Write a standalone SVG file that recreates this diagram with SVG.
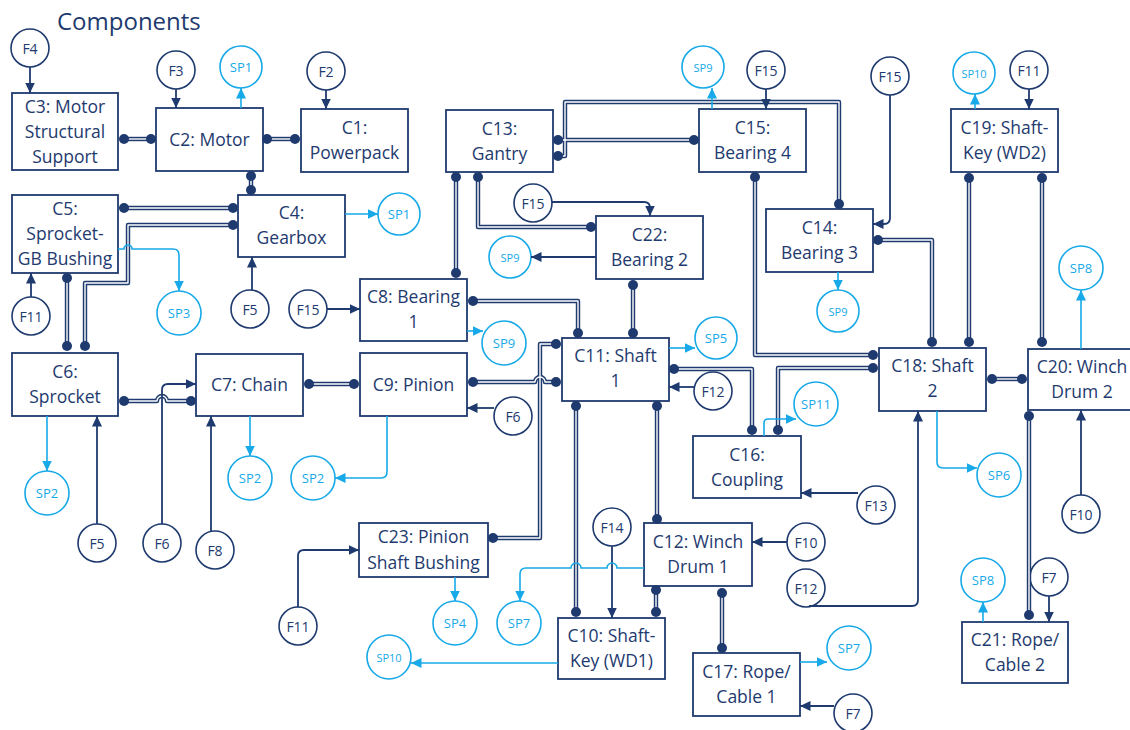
<svg xmlns="http://www.w3.org/2000/svg" xmlns:xlink="http://www.w3.org/1999/xlink" width="1130" height="730" viewBox="0 0 1130 730">
<style>
.bg{fill:#fff}
.box{fill:#fff;stroke:#1E3A6E;stroke-width:1.8}
.lbl{font-family:"Open Sans","Noto Sans",sans-serif;font-size:17.5px;fill:#1E3A6E;text-anchor:middle}
.title{font-family:"Open Sans","Noto Sans",sans-serif;font-size:24px;fill:#1E3A6E}
.fc{fill:#fff;stroke:#1E3A6E;stroke-width:1.6}
.ft{font-family:"Open Sans","Noto Sans",sans-serif;font-size:14px;fill:#1E3A6E;text-anchor:middle;dominant-baseline:central}
.sc{fill:#fff;stroke:#17A9E8;stroke-width:1.6}
.st{font-family:"Open Sans","Noto Sans",sans-serif;font-size:13px;fill:#17A9E8;text-anchor:middle;dominant-baseline:central}
.st.s{font-size:11px}
.na{fill:none;stroke:#1E3A6E;stroke-width:1.8;marker-end:url(#an)}
.ba{fill:none;stroke:#17A9E8;stroke-width:1.6;marker-end:url(#ab)}
.dbo{fill:none;stroke:#1E3A6E;stroke-width:4.4;stroke-linejoin:round}
.dbi{fill:none;stroke:#fff;stroke-width:1.4;stroke-linejoin:round}
.dot{fill:#1E3A6E}
</style>
<defs>
<marker id="an" markerUnits="userSpaceOnUse" markerWidth="11" markerHeight="10" refX="10.5" refY="5" orient="auto"><path d="M0,0 L10.5,5 L0,10 z" fill="#1E3A6E"/></marker>
<marker id="ab" markerUnits="userSpaceOnUse" markerWidth="11" markerHeight="10" refX="10.5" refY="5" orient="auto"><path d="M0,0 L10.5,5 L0,10 z" fill="#17A9E8"/></marker>
<path id="d1" d="M124,139 H151"/>
<path id="d2" d="M267,139 H295"/>
<path id="d3" d="M251,176 V190"/>
<path id="d4" d="M124,208 H233"/>
<path id="d5" d="M233,225 H128 V283 H85 V346"/>
<path id="d6" d="M67,278 V346"/>
<path id="d7" d="M124,401 H157 a5,5 0 0 1 10,0 H191"/>
<path id="d8" d="M309,384 H354"/>
<path id="d9" d="M456,177 V273"/>
<path id="d10" d="M478,177 V227 H591"/>
<path id="d11" d="M558,140 H694"/>
<path id="d12" d="M558,156 H565 V102 H839 V204"/>
<path id="d13" d="M473,301 H578 V333"/>
<path id="d14" d="M633,285 V333"/>
<path id="d15" d="M473,382 H535 a5,5 0 0 1 10,0 H556"/>
<path id="d16" d="M493,538 H540 V344 H556"/>
<path id="d17" d="M576,406 V612"/>
<path id="d18" d="M657,406 V519"/>
<path id="d19" d="M656,590 V612"/>
<path id="d20" d="M674,369 H752 V430"/>
<path id="d21" d="M778,430 V368 H873"/>
<path id="d22" d="M755,177 V355 H873"/>
<path id="d23" d="M878,240 H932 V342"/>
<path id="d24" d="M969,178 V342"/>
<path id="d25" d="M1042,178 V342"/>
<path id="d26" d="M992,379 H1022"/>
<path id="d27" d="M1029,416 V615"/>
<path id="d28" d="M722,593 V648"/>
</defs>
<rect class="bg" x="0" y="0" width="1130" height="730"/>
<text class="title" x="57" y="30">Components</text>

<g id="nodes">
<g id="C1"><rect class="box" x="301" y="109" width="107" height="63"/><text class="lbl" x="354.5" y="134">C1:</text><text class="lbl" x="354.5" y="159">Powerpack</text></g>
<g id="C2"><rect class="box" x="156" y="108" width="107" height="63"/><text class="lbl" x="209.5" y="146">C2: Motor</text></g>
<g id="C3"><rect class="box" x="12" y="93" width="106" height="77"/><text class="lbl" x="65" y="113">C3: Motor</text><text class="lbl" x="65" y="138">Structural</text><text class="lbl" x="65" y="163">Support</text></g>
<g id="C4"><rect class="box" x="238" y="195" width="107" height="62"/><text class="lbl" x="291.5" y="219">C4:</text><text class="lbl" x="291.5" y="244">Gearbox</text></g>
<g id="C5"><rect class="box" x="12" y="195" width="106" height="78"/><text class="lbl" x="65" y="215">C5:</text><text class="lbl" x="65" y="240">Sprocket-</text><text class="lbl" x="65" y="265">GB Bushing</text></g>
<g id="C6"><rect class="box" x="12" y="353" width="106" height="63"/><text class="lbl" x="65" y="378">C6:</text><text class="lbl" x="65" y="403">Sprocket</text></g>
<g id="C7"><rect class="box" x="196" y="354" width="107" height="62"/><text class="lbl" x="249.5" y="391">C7: Chain</text></g>
<g id="C8"><rect class="box" x="360" y="279" width="107" height="62"/><text class="lbl" x="413.5" y="303">C8: Bearing</text><text class="lbl" x="413.5" y="328">1</text></g>
<g id="C9"><rect class="box" x="360" y="353" width="107" height="63"/><text class="lbl" x="413.5" y="391">C9: Pinion</text></g>
<g id="C10"><rect class="box" x="558" y="618" width="107" height="61"/><text class="lbl" x="611.5" y="642">C10: Shaft-</text><text class="lbl" x="611.5" y="667">Key (WD1)</text></g>
<g id="C11"><rect class="box" x="562" y="338" width="107" height="63"/><text class="lbl" x="615.5" y="362">C11: Shaft</text><text class="lbl" x="615.5" y="387">1</text></g>
<g id="C12"><rect class="box" x="644" y="523" width="108" height="63"/><text class="lbl" x="698" y="548">C12: Winch</text><text class="lbl" x="698" y="573">Drum 1</text></g>
<g id="C13"><rect class="box" x="446" y="110" width="107" height="62"/><text class="lbl" x="499.5" y="135">C13:</text><text class="lbl" x="499.5" y="160">Gantry</text></g>
<g id="C14"><rect class="box" x="766" y="209" width="107" height="63"/><text class="lbl" x="819.5" y="234">C14:</text><text class="lbl" x="819.5" y="259">Bearing 3</text></g>
<g id="C15"><rect class="box" x="699" y="109" width="107" height="63"/><text class="lbl" x="752.5" y="134">C15:</text><text class="lbl" x="752.5" y="159">Bearing 4</text></g>
<g id="C16"><rect class="box" x="693" y="436" width="108" height="62"/><text class="lbl" x="747" y="461">C16:</text><text class="lbl" x="747" y="486">Coupling</text></g>
<g id="C17"><rect class="box" x="693" y="653" width="107" height="63"/><text class="lbl" x="746.5" y="678">C17: Rope/</text><text class="lbl" x="746.5" y="703">Cable 1</text></g>
<g id="C18"><rect class="box" x="879" y="348" width="107" height="63"/><text class="lbl" x="932.5" y="372">C18: Shaft</text><text class="lbl" x="932.5" y="397">2</text></g>
<g id="C19"><rect class="box" x="951" y="109" width="107" height="63"/><text class="lbl" x="1004.5" y="134">C19: Shaft-</text><text class="lbl" x="1004.5" y="159">Key (WD2)</text></g>
<g id="C20"><rect class="box" x="1028" y="349" width="108" height="61"/><text class="lbl" x="1082" y="373">C20: Winch</text><text class="lbl" x="1082" y="398">Drum 2</text></g>
<g id="C21"><rect class="box" x="962" y="622" width="106" height="61"/><text class="lbl" x="1015" y="646">C21: Rope/</text><text class="lbl" x="1015" y="671">Cable 2</text></g>
<g id="C22"><rect class="box" x="596" y="216" width="107" height="63"/><text class="lbl" x="649.5" y="241">C22:</text><text class="lbl" x="649.5" y="266">Bearing 2</text></g>
<g id="C23"><rect class="box" x="359" y="523" width="129" height="54"/><text class="lbl" x="423.5" y="543">C23: Pinion</text><text class="lbl" x="423.5" y="569">Shaft Bushing</text></g>

<g id="F4"><circle class="fc" cx="30" cy="48" r="19"/><text class="ft" x="30" y="48">F4</text></g>
<g id="F3"><circle class="fc" cx="176" cy="70" r="19"/><text class="ft" x="176" y="70">F3</text></g>
<g id="F2"><circle class="fc" cx="326" cy="71" r="19"/><text class="ft" x="326" y="71">F2</text></g>
<g id="F11-a"><circle class="fc" cx="31" cy="316" r="19"/><text class="ft" x="31" y="316">F11</text></g>
<g id="F5-a"><circle class="fc" cx="250" cy="309" r="19"/><text class="ft" x="250" y="309">F5</text></g>
<g id="F15-a"><circle class="fc" cx="308" cy="309" r="19"/><text class="ft" x="308" y="309">F15</text></g>
<g id="F5-b"><circle class="fc" cx="97" cy="543" r="19"/><text class="ft" x="97" y="543">F5</text></g>
<g id="F6-a"><circle class="fc" cx="162" cy="543" r="19"/><text class="ft" x="162" y="543">F6</text></g>
<g id="F8"><circle class="fc" cx="215" cy="550" r="19"/><text class="ft" x="215" y="550">F8</text></g>
<g id="F11-b"><circle class="fc" cx="298" cy="626" r="19"/><text class="ft" x="298" y="626">F11</text></g>
<g id="F6-b"><circle class="fc" cx="513" cy="416" r="19"/><text class="ft" x="513" y="416">F6</text></g>
<g id="F12-a"><circle class="fc" cx="713" cy="391" r="19"/><text class="ft" x="713" y="391">F12</text></g>
<g id="F15-b"><circle class="fc" cx="533" cy="203" r="19"/><text class="ft" x="533" y="203">F15</text></g>
<g id="F15-c"><circle class="fc" cx="766" cy="70" r="19"/><text class="ft" x="766" y="70">F15</text></g>
<g id="F15-d"><circle class="fc" cx="890" cy="76" r="19"/><text class="ft" x="890" y="76">F15</text></g>
<g id="F11-c"><circle class="fc" cx="1029" cy="70" r="19"/><text class="ft" x="1029" y="70">F11</text></g>
<g id="F14"><circle class="fc" cx="612" cy="527" r="19"/><text class="ft" x="612" y="527">F14</text></g>
<g id="F10-a"><circle class="fc" cx="806" cy="542" r="19"/><text class="ft" x="806" y="542">F10</text></g>
<g id="F12-b"><circle class="fc" cx="806" cy="588" r="19"/><text class="ft" x="806" y="588">F12</text></g>
<g id="F13"><circle class="fc" cx="876" cy="505" r="19"/><text class="ft" x="876" y="505">F13</text></g>
<g id="F10-b"><circle class="fc" cx="1081" cy="514" r="19"/><text class="ft" x="1081" y="514">F10</text></g>
<g id="F7-a"><circle class="fc" cx="853" cy="713" r="19"/><text class="ft" x="853" y="713">F7</text></g>
<g id="F7-b"><circle class="fc" cx="1049" cy="577" r="19"/><text class="ft" x="1049" y="577">F7</text></g>

<g id="SP1-a"><circle class="sc" cx="241" cy="67" r="21"/><text class="st" x="241" y="67">SP1</text></g>
<g id="SP1-b"><circle class="sc" cx="399" cy="214" r="21"/><text class="st" x="399" y="214">SP1</text></g>
<g id="SP3"><circle class="sc" cx="179" cy="313" r="22"/><text class="st" x="179" y="313">SP3</text></g>
<g id="SP2-a"><circle class="sc" cx="47" cy="493" r="22"/><text class="st" x="47" y="493">SP2</text></g>
<g id="SP2-b"><circle class="sc" cx="250" cy="478" r="22"/><text class="st" x="250" y="478">SP2</text></g>
<g id="SP2-c"><circle class="sc" cx="313" cy="478" r="22"/><text class="st" x="313" y="478">SP2</text></g>
<g id="SP9-a"><circle class="sc" cx="504" cy="343" r="22"/><text class="st" x="504" y="343">SP9</text></g>
<g id="SP9-b"><circle class="sc" cx="510" cy="257" r="21"/><text class="st s" x="510" y="257">SP9</text></g>
<g id="SP9-c"><circle class="sc" cx="703" cy="67" r="21"/><text class="st s" x="703" y="67">SP9</text></g>
<g id="SP9-d"><circle class="sc" cx="838" cy="311" r="21"/><text class="st s" x="838" y="311">SP9</text></g>
<g id="SP5"><circle class="sc" cx="716" cy="338" r="21"/><text class="st" x="716" y="338">SP5</text></g>
<g id="SP11"><circle class="sc" cx="816" cy="404" r="22"/><text class="st" x="816" y="404" font-size="12">SP11</text></g>
<g id="SP6"><circle class="sc" cx="999" cy="475" r="22"/><text class="st" x="999" y="475">SP6</text></g>
<g id="SP8-a"><circle class="sc" cx="1081" cy="268" r="22"/><text class="st" x="1081" y="268">SP8</text></g>
<g id="SP8-b"><circle class="sc" cx="983" cy="580" r="22"/><text class="st" x="983" y="580" font-size="12">SP8</text></g>
<g id="SP10-a"><circle class="sc" cx="974" cy="73" r="21"/><text class="st s" x="974" y="73">SP10</text></g>
<g id="SP10-b"><circle class="sc" cx="389" cy="657" r="22"/><text class="st s" x="389" y="657">SP10</text></g>
<g id="SP4"><circle class="sc" cx="455" cy="623" r="22"/><text class="st" x="455" y="623">SP4</text></g>
<g id="SP7-a"><circle class="sc" cx="519" cy="623" r="22"/><text class="st" x="519" y="623">SP7</text></g>
<g id="SP7-b"><circle class="sc" cx="849" cy="648" r="22"/><text class="st" x="849" y="648">SP7</text></g>
</g>

<g id="connectors">
<g class="dbo">
<use xlink:href="#d1"/><use xlink:href="#d2"/><use xlink:href="#d3"/><use xlink:href="#d4"/><use xlink:href="#d5"/><use xlink:href="#d6"/><use xlink:href="#d7"/><use xlink:href="#d8"/><use xlink:href="#d9"/><use xlink:href="#d10"/><use xlink:href="#d11"/><use xlink:href="#d12"/><use xlink:href="#d13"/><use xlink:href="#d14"/><use xlink:href="#d15"/><use xlink:href="#d16"/><use xlink:href="#d17"/><use xlink:href="#d18"/><use xlink:href="#d19"/><use xlink:href="#d20"/><use xlink:href="#d21"/><use xlink:href="#d22"/><use xlink:href="#d23"/><use xlink:href="#d24"/><use xlink:href="#d25"/><use xlink:href="#d26"/><use xlink:href="#d27"/><use xlink:href="#d28"/>
</g>
<g class="dbi">
<use xlink:href="#d1"/><use xlink:href="#d2"/><use xlink:href="#d3"/><use xlink:href="#d4"/><use xlink:href="#d5"/><use xlink:href="#d6"/><use xlink:href="#d7"/><use xlink:href="#d8"/><use xlink:href="#d9"/><use xlink:href="#d10"/><use xlink:href="#d11"/><use xlink:href="#d12"/><use xlink:href="#d13"/><use xlink:href="#d14"/><use xlink:href="#d15"/><use xlink:href="#d16"/><use xlink:href="#d17"/><use xlink:href="#d18"/><use xlink:href="#d19"/><use xlink:href="#d20"/><use xlink:href="#d21"/><use xlink:href="#d22"/><use xlink:href="#d23"/><use xlink:href="#d24"/><use xlink:href="#d25"/><use xlink:href="#d26"/><use xlink:href="#d27"/><use xlink:href="#d28"/>
</g>
<g class="dots">
<circle class="dot" cx="124" cy="139" r="5"/><circle class="dot" cx="151" cy="139" r="5"/>
<circle class="dot" cx="267" cy="139" r="5"/><circle class="dot" cx="295" cy="139" r="5"/>
<circle class="dot" cx="251" cy="176" r="5"/><circle class="dot" cx="251" cy="190" r="5"/>
<circle class="dot" cx="124" cy="208" r="5"/><circle class="dot" cx="233" cy="208" r="5"/>
<circle class="dot" cx="233" cy="225" r="5"/><circle class="dot" cx="85" cy="346" r="5"/>
<circle class="dot" cx="67" cy="278" r="5"/><circle class="dot" cx="67" cy="346" r="5"/>
<circle class="dot" cx="124" cy="401" r="5"/><circle class="dot" cx="191" cy="401" r="5"/>
<circle class="dot" cx="309" cy="384" r="5"/><circle class="dot" cx="354" cy="384" r="5"/>
<circle class="dot" cx="456" cy="177" r="5"/><circle class="dot" cx="456" cy="273" r="5"/>
<circle class="dot" cx="478" cy="177" r="5"/><circle class="dot" cx="591" cy="227" r="5"/>
<circle class="dot" cx="558" cy="140" r="5"/><circle class="dot" cx="694" cy="140" r="5"/>
<circle class="dot" cx="558" cy="156" r="5"/><circle class="dot" cx="839" cy="204" r="5"/>
<circle class="dot" cx="473" cy="301" r="5"/><circle class="dot" cx="578" cy="333" r="5"/>
<circle class="dot" cx="633" cy="285" r="5"/><circle class="dot" cx="633" cy="333" r="5"/>
<circle class="dot" cx="473" cy="382" r="5"/><circle class="dot" cx="556" cy="382" r="5"/>
<circle class="dot" cx="493" cy="538" r="5"/><circle class="dot" cx="556" cy="344" r="5"/>
<circle class="dot" cx="576" cy="406" r="5"/><circle class="dot" cx="576" cy="612" r="5"/>
<circle class="dot" cx="657" cy="406" r="5"/><circle class="dot" cx="657" cy="519" r="5"/>
<circle class="dot" cx="656" cy="590" r="5"/><circle class="dot" cx="656" cy="612" r="5"/>
<circle class="dot" cx="674" cy="369" r="5"/><circle class="dot" cx="752" cy="430" r="5"/>
<circle class="dot" cx="778" cy="430" r="5"/><circle class="dot" cx="873" cy="368" r="5"/>
<circle class="dot" cx="755" cy="177" r="5"/><circle class="dot" cx="873" cy="355" r="5"/>
<circle class="dot" cx="878" cy="240" r="5"/><circle class="dot" cx="932" cy="342" r="5"/>
<circle class="dot" cx="969" cy="178" r="5"/><circle class="dot" cx="969" cy="342" r="5"/>
<circle class="dot" cx="1042" cy="178" r="5"/><circle class="dot" cx="1042" cy="342" r="5"/>
<circle class="dot" cx="992" cy="379" r="5"/><circle class="dot" cx="1022" cy="379" r="5"/>
<circle class="dot" cx="1029" cy="416" r="5"/><circle class="dot" cx="1029" cy="615" r="5"/>
<circle class="dot" cx="722" cy="593" r="5"/><circle class="dot" cx="722" cy="648" r="5"/>
</g>
<g class="force">
<path class="na" d="M30,67 V93"/>
<path class="na" d="M176,89 V108"/>
<path class="na" d="M326,90 V109"/>
<path class="na" d="M31,297 V273"/>
<path class="na" d="M252,290 V257"/>
<path class="na" d="M327,309 H360"/>
<path class="na" d="M97,524 V416"/>
<path class="na" d="M162,524 V390 Q162,384 168,384 H196"/>
<path class="na" d="M211,531 V416"/>
<path class="na" d="M298,607 V556 Q298,550 304,550 H359"/>
<path class="na" d="M494,408 H467"/>
<path class="na" d="M694,387 H669"/>
<path class="na" d="M552,202 H644 Q650,202 650,208 V216"/>
<path class="na" d="M766,89 V109"/>
<path class="na" d="M890,95 V218 Q890,224 884,224 H873"/>
<path class="na" d="M1029,89 V109"/>
<path class="na" d="M612,546 V618"/>
<path class="na" d="M787,542 H752"/>
<path class="na" d="M809,606 H912 Q918,606 918,600 V411"/>
<path class="na" d="M858,493 H801"/>
<path class="na" d="M1081,495 V410"/>
<path class="na" d="M834,706 H800"/>
<path class="na" d="M1049,596 V622"/>
<path class="na" d="M596,257 H531"/>
</g>
<g class="spill">
<path class="ba" d="M241,108 V88"/>
<path class="ba" d="M345,214 H378"/>
<path class="ba" d="M118,249 H124 a4,4 0 0 1 8,0 H173 Q179,249 179,255 V291"/>
<path class="ba" d="M47,416 V471"/>
<path class="ba" d="M250,416 V456"/>
<path class="ba" d="M387,416 V472 Q387,478 381,478 H335"/>
<path class="ba" d="M467,331 H483"/>
<path class="ba" d="M669,348 H695"/>
<path class="ba" d="M764,436 V423 Q764,419 768,419 H796"/>
<path class="ba" d="M937,411 V462 Q937,468 943,468 H977"/>
<path class="ba" d="M1081,349 V290"/>
<path class="ba" d="M983,622 V602"/>
<path class="ba" d="M455,577 V601"/>
<path class="ba" d="M644,568 H617 a5,5 0 0 0 -10,0 H581 a5,5 0 0 0 -10,0 H526 Q520,568 520,574 V601"/>
<path class="ba" d="M800,662 H827"/>
<path class="ba" d="M975,109 V94"/>
<path class="ba" d="M558,663 H411"/>
<path class="ba" d="M838,272 V290"/>
<path class="ba" d="M712,109 V88"/>
</g>
</g>
</svg>
